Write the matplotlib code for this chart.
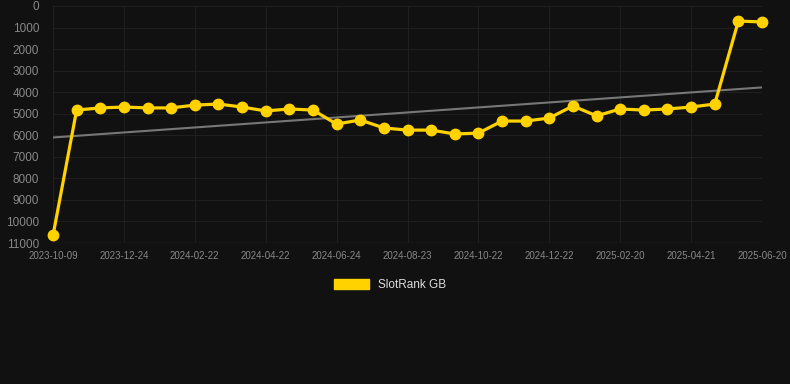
import matplotlib
matplotlib.use("Agg")
import matplotlib.pyplot as plt
from matplotlib.patches import Patch
import numpy as np

plt.rcParams['font.family'] = ['Liberation Sans', 'DejaVu Sans']

# ranks, one point per snapshot (category axis)
ranks = [10650, 4830, 4730, 4690, 4730, 4730, 4600, 4550, 4690, 4870,
         4780, 4830, 5480, 5290, 5660, 5760, 5760, 5940, 5900, 5340,
         5340, 5200, 4640, 5100, 4780, 4830, 4780, 4690, 4550, 700, 740]
tick_labels = ["2023-10-09", "2023-12-24", "2024-02-22", "2024-04-22",
               "2024-06-24", "2024-08-23", "2024-10-22", "2024-12-22",
               "2025-02-20", "2025-04-21", "2025-06-20"]
y_ticks = list(range(0, 11001, 1000))
series_name = "SlotRank GB"

bg = "#111111"
gold = "#FFD200"

fig = plt.figure(figsize=(7.9, 3.84), dpi=100, facecolor=bg)
ax = fig.add_axes([53 / 790, 141 / 384, 709 / 790, 237 / 384], facecolor=bg)

x = np.arange(len(ranks))
ax.plot(x, ranks, color=gold, lw=2.3, marker="o", ms=7.5, clip_on=False, zorder=3)

# linear trend
k, b = np.polyfit(x, ranks, 1)
ax.plot([x[0], x[-1]], [k * x[0] + b, k * x[-1] + b], color="#777777", lw=1.5, zorder=2)

ax.set_xlim(0, len(ranks) - 1)
ax.set_ylim(11000, 0)
ax.set_yticks(y_ticks)
ax.set_xticks(x[::3])
ax.set_xticklabels(tick_labels)
ax.tick_params(axis="y", colors="#888888", labelsize=8.5, length=0, pad=10)
ax.tick_params(axis="x", colors="#888888", labelsize=7, length=0, pad=6)
ax.grid(True, color="#1f1f1f", lw=0.8)
for s in ax.spines.values():
    s.set_visible(False)
ax.axhline(11000, color="#2a2a2a", lw=1)

fig.legend(handles=[Patch(facecolor=gold, edgecolor=gold)], labels=[series_name],
           loc="center", bbox_to_anchor=(390 / 790, 1 - 285 / 384), frameon=False,
           handlelength=3.0, handleheight=0.9, fontsize=8.5, labelcolor="#dddddd")

fig.savefig("out.png", dpi=100, facecolor=bg)
